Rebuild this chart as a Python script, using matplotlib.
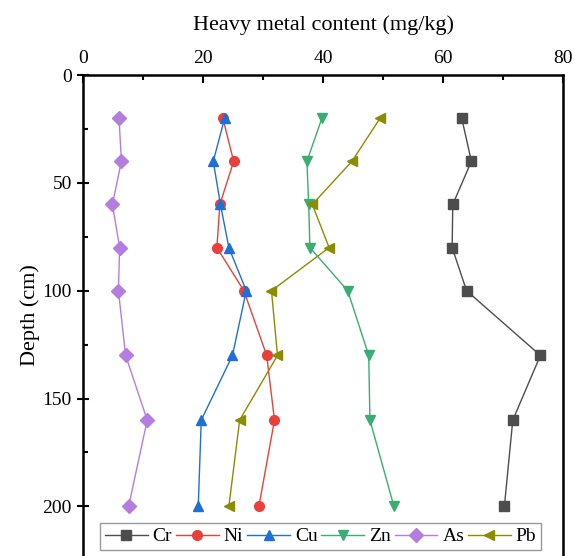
import matplotlib
matplotlib.use("Agg")
import matplotlib.pyplot as plt
from matplotlib.ticker import MultipleLocator

plt.rcParams['font.family'] = ['Liberation Serif', 'DejaVu Serif']

#sampling depths (cm)
depth = [20, 40, 60, 80, 100, 130, 160, 200]

#heavy metal contents (mg/kg)
cr = [63.1, 64.7, 61.6, 61.5, 63.9, 76.2, 71.6, 70.2]
ni = [23.3, 25.1, 22.8, 22.3, 26.8, 30.6, 31.9, 29.3]
cu = [23.6, 21.7, 22.9, 24.3, 27.2, 24.9, 19.7, 19.2]
zn = [39.8, 37.3, 37.6, 37.8, 44.1, 47.6, 47.8, 51.8]
as_ = [6.0, 6.4, 4.9, 6.1, 5.9, 7.1, 10.7, 7.6]
pb = [49.5, 44.8, 38.2, 41.0, 31.4, 32.4, 26.1, 24.3]

series = [
    ("Cr", cr, "#4d4d4d", "s"),
    ("Ni", ni, "#e8413c", "o"),
    ("Cu", cu, "#1f6fd6", "^"),
    ("Zn", zn, "#3aad72", "v"),
    ("As", as_, "#b47ee0", "D"),
    ("Pb", pb, "#8c8c00", "<"),
]

fig = plt.figure(figsize=(5.74, 5.56), dpi=100)
ax = fig.add_axes([0.1446, 0.0, 0.8366, 0.865])

for name, values, color, marker in series:
    ax.plot(values, depth, color=color, marker=marker, markersize=7,
            linewidth=1.0, label=name)

ax.set_xlim(0, 80)
ax.set_ylim(223, 0)

#x axis on top
ax.xaxis.set_ticks_position('top')
ax.xaxis.set_label_position('top')
ax.xaxis.set_major_locator(MultipleLocator(20))
ax.xaxis.set_minor_locator(MultipleLocator(10))
ax.yaxis.set_major_locator(MultipleLocator(50))
ax.yaxis.set_minor_locator(MultipleLocator(25))

ax.tick_params(axis='x', which='major', direction='in', length=6, width=1.5, labelsize=14, pad=6)
ax.tick_params(axis='x', which='minor', direction='in', length=3.5, width=1.5)
ax.tick_params(axis='y', which='major', direction='inout', length=9, width=1.5, labelsize=14)
ax.tick_params(axis='y', which='minor', direction='in', length=3.5, width=1.5)

for side in ['top', 'left', 'right']:
    ax.spines[side].set_linewidth(1.8)
ax.spines['bottom'].set_visible(False)

ax.set_xlabel("Heavy metal content (mg/kg)", fontsize=16, labelpad=14)
ax.set_ylabel("Depth (cm)", fontsize=16, labelpad=2)

leg = ax.legend(loc='lower center', bbox_to_anchor=(0.495, 0.012), ncol=6,
                fontsize=14, frameon=True, fancybox=False, edgecolor='#808080',
                handlelength=2.2, handletextpad=0.25, columnspacing=0.2,
                borderpad=0.25, borderaxespad=0.0)
leg.get_frame().set_linewidth(1.0)

fig.savefig("out.png", dpi=100)
